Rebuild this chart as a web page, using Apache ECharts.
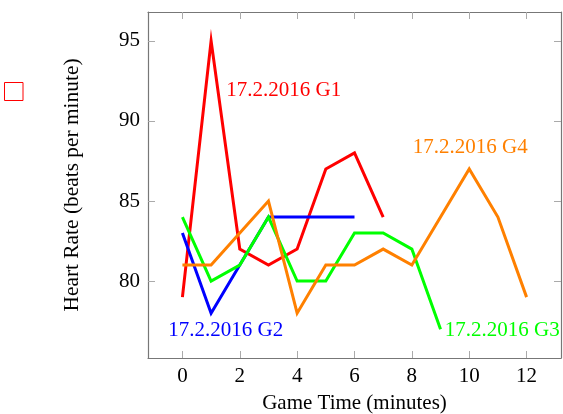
<!DOCTYPE html>
<html><head><meta charset="utf-8">
<script src="https://cdn.jsdelivr.net/npm/echarts@6/dist/echarts.min.js"></script>
<style>html,body{margin:0;padding:0;background:#fff}#c{width:563px;height:414px}</style>
</head><body><div id="c"></div>
<script>
var xTicks = [0, 2, 4, 6, 8, 10, 12];
var yTicks = [80, 85, 90, 95];
var seriesNames = ['17.2.2016 G1', '17.2.2016 G2', '17.2.2016 G3', '17.2.2016 G4'];
var g1 = [79, 95, 82, 81, 82, 87, 88, 84];
var g2 = [83, 78, 81, 84, 84, 84, 84];
var g3 = [84, 80, 81, 84, 80, 80, 83, 83, 82, 77];
var g4 = [81, 81, 83, 85, 78, 81, 81, 82, 81, 84, 87, 84, 79];
var colors = ['#ff0000', '#0000ff', '#00ff00', '#ff8000'];
var labelAt = [[1.53, 91.93], [-0.49, 76.9], [9.15, 76.93], [8.03, 88.37]];

var FONT = 'Liberation Serif';
function pts(arr) { return arr.map(function (v, i) { return [i, v]; }); }
var data = [g1, g2, g3, g4];

function axisLineStyle() { return { show: true, onZero: false, lineStyle: { color: '#777', width: 1.2 } }; }
function tick(vals) { return { show: true, inside: true, length: 7, customValues: vals, lineStyle: { color: '#aaa', width: 1 } }; }

var chart = echarts.init(document.getElementById('c'), null, { renderer: 'canvas' });
chart.setOption({
  backgroundColor: '#fff',
  animation: false,
  grid: { left: 148, right: 2, top: 12, bottom: 56, containLabel: false, outerBoundsMode: 'none' },
  xAxis: [
    { type: 'value', position: 'bottom', min: -1.2, max: 13.2,
      name: 'Game Time (minutes)', nameLocation: 'middle', nameGap: 35,
      nameTextStyle: { fontFamily: FONT, fontSize: 21, color: '#000' },
      axisLine: axisLineStyle(), axisTick: tick(xTicks),
      axisLabel: { customValues: xTicks, fontFamily: FONT, fontSize: 21, color: '#000', margin: 8 },
      splitLine: { show: false } },
    { type: 'value', position: 'top', min: -1.2, max: 13.2,
      axisLine: axisLineStyle(), axisTick: tick(xTicks),
      axisLabel: { show: false }, splitLine: { show: false } }
  ],
  yAxis: [
    { type: 'value', position: 'left', min: 75.2, max: 96.8,
      name: 'Heart Rate (beats per minute)', nameLocation: 'middle', nameGap: 65,
      nameTextStyle: { fontFamily: FONT, fontSize: 21.4, color: '#000' },
      axisLine: axisLineStyle(), axisTick: tick(yTicks),
      axisLabel: { customValues: yTicks, fontFamily: FONT, fontSize: 21, color: '#000', margin: 8 },
      splitLine: { show: false } },
    { type: 'value', position: 'right', min: 75.2, max: 96.8,
      axisLine: axisLineStyle(), axisTick: tick(yTicks),
      axisLabel: { show: false }, splitLine: { show: false } }
  ],
  graphic: [
    { type: 'rect', shape: { x: 4.5, y: 82.5, width: 18.5, height: 18 },
      style: { fill: 'none', stroke: '#ff0000', lineWidth: 1 } }
  ],
  series: data.map(function (d, i) {
    return {
      type: 'line', name: seriesNames[i], data: pts(d),
      xAxisIndex: 0, yAxisIndex: 0,
      showSymbol: false, symbol: 'none',
      lineStyle: { color: colors[i], width: 3, join: 'miter' },
      itemStyle: { color: colors[i] },
      z: 2 + i,
      markPoint: {
        symbol: 'circle', symbolSize: 0, silent: true,
        data: [{ coord: labelAt[i] }],
        label: { show: true, position: 'right', distance: 0, formatter: seriesNames[i],
                 fontFamily: FONT, fontSize: 21, color: colors[i] }
      }
    };
  })
});
</script></body></html>
